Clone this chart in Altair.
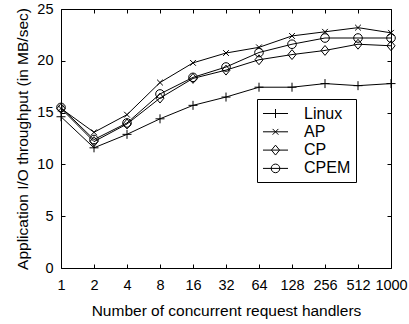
import altair as alt
import pandas as pd

# ---- data ----
handlers = ["1", "2", "4", "8", "16", "32", "64", "128", "256", "512", "1000"]
series = ["Linux", "AP", "CP", "CPEM"]
linux = [14.6, 11.6, 12.9, 14.4, 15.7, 16.5, 17.45, 17.45, 17.8, 17.6, 17.8]
ap = [15.4, 13.1, 14.8, 17.9, 19.8, 20.75, 21.3, 22.4, 22.8, 23.2, 22.7]
cp = [15.4, 12.2, 13.9, 16.4, 18.3, 19.1, 20.1, 20.6, 21.0, 21.6, 21.45]
cpem = [15.5, 12.4, 14.0, 16.8, 18.4, 19.4, 20.8, 21.6, 22.2, 22.2, 22.2]
y_ticks = [0, 5, 10, 15, 20, 25]

rows = []
for name, vals in zip(series, [linux, ap, cp, cpem]):
    for h, v in zip(handlers, vals):
        rows.append({"handlers": h, "series": name, "value": v})
df = pd.DataFrame(rows)

W, H = 330, 259
FONT = "Liberation Sans"

# marker paths (unit coordinates, scaled by sqrt(size)/2)
plus_p = "M-0.5,0L0.5,0M0,-0.5L0,0.5"
x_p = "M-0.32,-0.32L0.32,0.32M-0.32,0.32L0.32,-0.32"
diamond_p = "M0,-0.55L0.45,0L0,0.55L-0.45,0Z"
circle_p = ("M0.48,0C0.48,0.265,0.265,0.48,0,0.48C-0.265,0.48,-0.48,0.265,-0.48,0"
            "C-0.48,-0.265,-0.265,-0.48,0,-0.48C0.265,-0.48,0.48,-0.265,0.48,0Z")
line_sym = "M-1.39,0L1.39,0"
SIZE = 324

# second copy of the series names (trailing space) so the two legends stay separate
series2 = [s + " " for s in series]

x_enc = alt.X(
    "handlers:N",
    sort=handlers,
    scale=alt.Scale(type="point", domain=handlers, padding=0),
    axis=alt.Axis(
        title="Number of concurrent request handlers",
        labelAngle=0, ticks=False, tickSize=0, domain=False,
        grid=True, gridColor="black", gridDash=[4, H - 8], gridWidth=1, gridOpacity=1,
        labelFont=FONT, labelFontSize=14.5, labelColor="black",
        labelPadding=21, labelBaseline="alphabetic",
        labelOverlap=False, labelFlush=False,
        titleFont=FONT, titleFontSize=15.5, titleFontWeight="normal", titleColor="black",
        titleX=W / 2, titleY=47, titleBaseline="alphabetic", titleAlign="center",
    ),
)
y_enc = alt.Y(
    "value:Q",
    scale=alt.Scale(domain=[0, 25], nice=False, zero=True),
    axis=alt.Axis(
        title="Application I/O throughput (in MB/sec)",
        values=y_ticks, ticks=False, tickSize=0, domain=False,
        grid=True, gridColor="black", gridDash=[4, W - 8], gridWidth=1, gridOpacity=1,
        labelFont=FONT, labelFontSize=14.5, labelColor="black", labelPadding=8,
        titleFont=FONT, titleFontSize=15.5, titleFontWeight="normal", titleColor="black",
        titleX=-39, titleY=H / 2, titleAngle=270, titleBaseline="middle", titleAlign="center",
    ),
)

legend_common = dict(
    orient="none", legendX=196, legendY=90, padding=5,
    symbolSize=SIZE, symbolOffset=4, labelOffset=19, rowPadding=0.3,
    labelFont=FONT, labelFontSize=16, title=None,
    symbolStrokeWidth=1, symbolStrokeColor="black", labelBaseline="middle",
)

lines = alt.Chart(df).mark_line(strokeWidth=1).encode(
    color=alt.Color(
        "series:N",
        scale=alt.Scale(domain=series, range=["black"] * 4),
        legend=alt.Legend(symbolType=line_sym, strokeColor="black",
                          labelColor="transparent", **legend_common),
    )
)

points = alt.Chart(df).transform_calculate(series2="datum.series + ' '").mark_point(
    filled=False, size=SIZE, stroke="black", strokeWidth=1, opacity=1
).encode(
    shape=alt.Shape(
        "series2:N",
        scale=alt.Scale(domain=series2, range=[plus_p, x_p, diamond_p, circle_p]),
        legend=alt.Legend(symbolFillColor="transparent", labelColor="black", **legend_common),
    )
)

chart = alt.layer(lines, points).encode(x=x_enc, y=y_enc).properties(
    width=W, height=H,
    padding={"left": 61, "top": 9, "right": 409 - 61 - W, "bottom": 324 - 9 - H},
    autosize=alt.AutoSizeParams(type="none"),
    background="white",
).configure_view(stroke="black", strokeWidth=1)

chart.save("out.html", embed_options={"renderer": "svg", "actions": False})
